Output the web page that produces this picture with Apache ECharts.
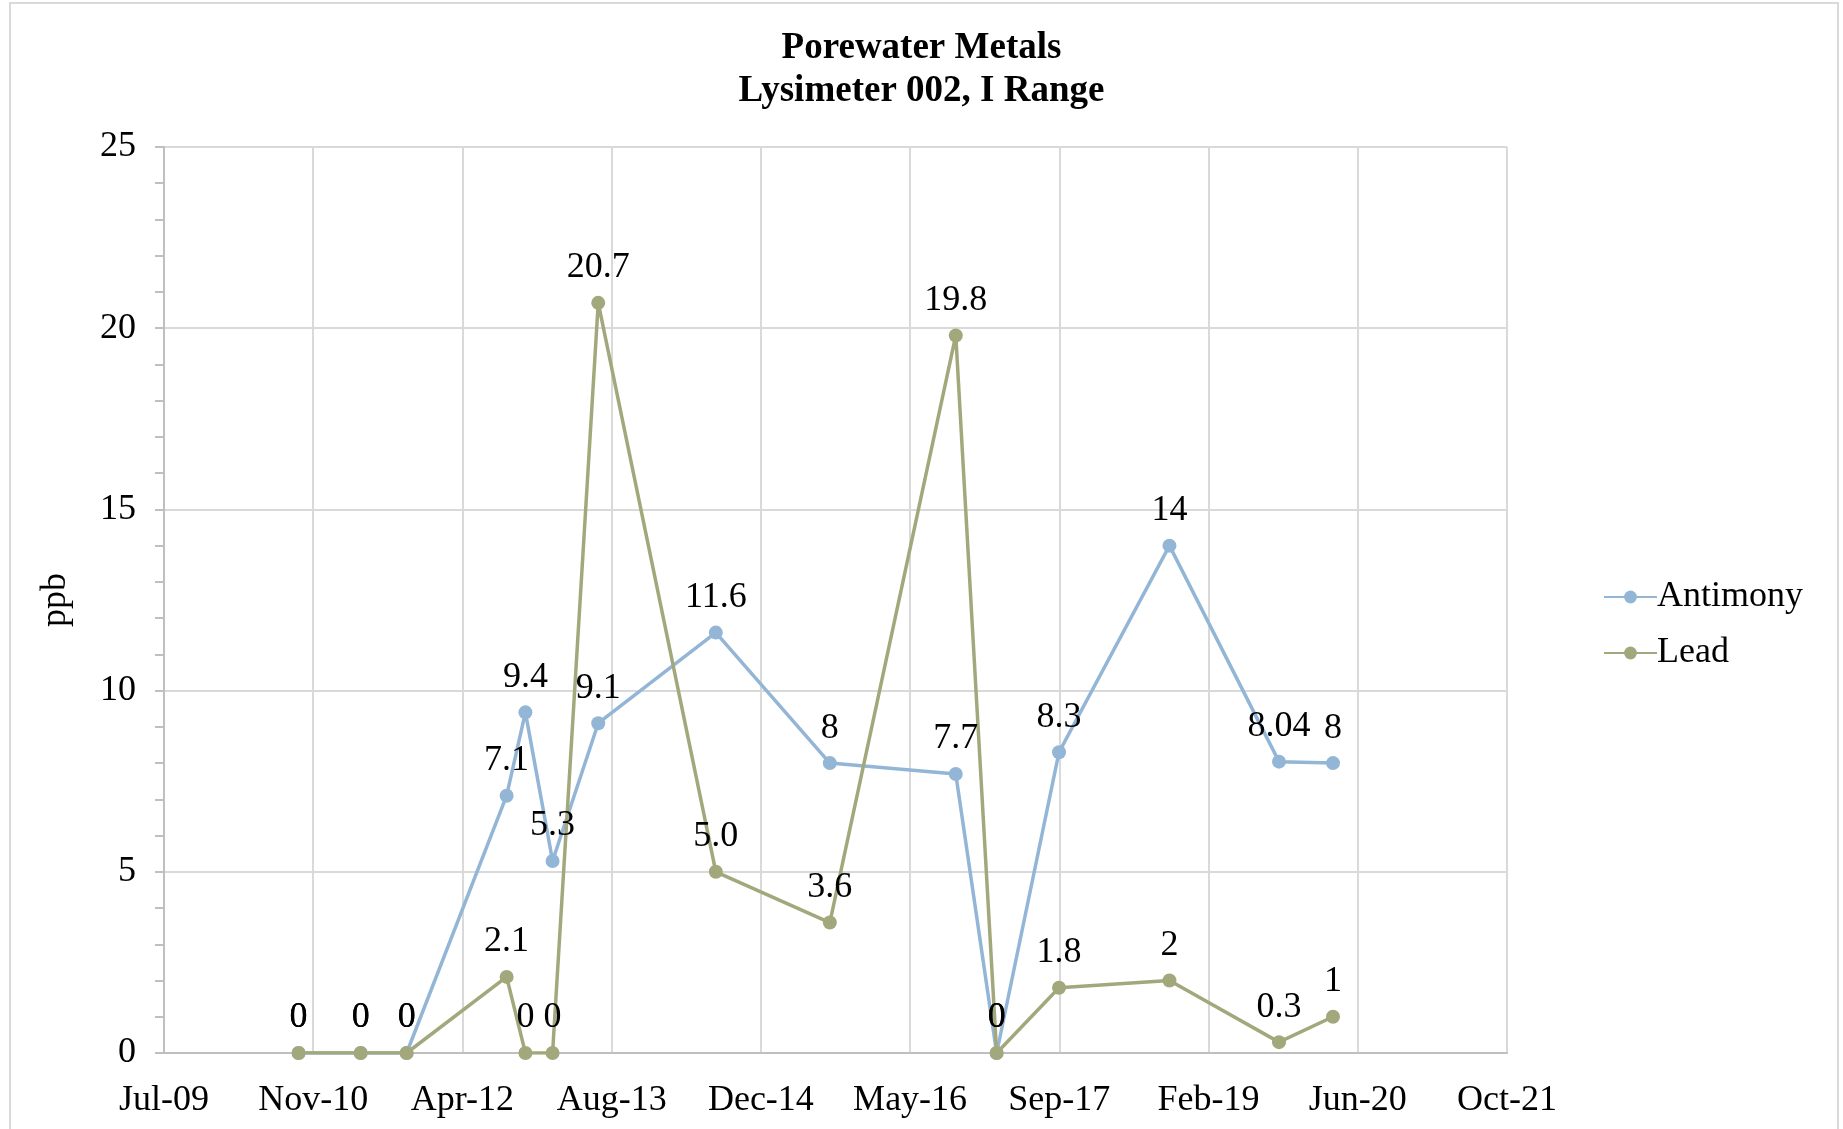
<!DOCTYPE html>
<html>
<head>
<meta charset="utf-8">
<title>Porewater Metals</title>
<script src="https://cdn.jsdelivr.net/npm/echarts@6/dist/echarts.min.js"></script>
<style>
  html, body { margin: 0; padding: 0; background: #fff; }
  #main { width: 1843px; height: 1129px; }
</style>
</head>
<body>
<div id="main"></div>
<script>
  // sample dates
  var sampleDates = ['2010-09-30', '2011-04-26', '2011-09-27', '2012-08-27', '2012-10-29', '2013-01-28',
    '2013-06-30', '2014-07-29', '2015-08-15', '2016-10-10', '2017-02-24', '2017-09-21',
    '2018-09-26', '2019-09-28', '2020-03-27']
  var antimony = [0, 0, 0, 7.1, 9.4, 5.3, 9.1, 11.6, 8, 7.7, 0, 8.3, 14, 8.04, 8]
  var lead = [0, 0, 0, 2.1, 0, 0, 20.7, 5.0, 3.6, 19.8, 0, 1.8, 2, 0.3, 1]
  var antimonyLabels = ['0', '0', '0', '7.1', '9.4', '5.3', '9.1', '11.6', '8', '7.7', '0', '8.3', '14', '8.04', '8']
  var leadLabels = ['0', '0', '0', '2.1', '0', '0', '20.7', '5.0', '3.6', '19.8', '0', '1.8', '2', '0.3', '1']
  var months = ['Jan', 'Feb', 'Mar', 'Apr', 'May', 'Jun', 'Jul', 'Aug', 'Sep', 'Oct', 'Nov', 'Dec']

  // excel style serial day numbers so the axis steps by 500 days from 40000
  var DAY = 86400000
  var EPOCH = Date.UTC(1899, 11, 30)
  function serial(s) {
    var p = s.split('-')
    return Math.round((Date.UTC(+p[0], +p[1] - 1, +p[2]) - EPOCH) / DAY)
  }
  function dateLabel(v) {
    var d = new Date(EPOCH + v * DAY)
    var yy = String(d.getUTCFullYear() % 100)
    if (yy.length < 2) yy = '0' + yy
    return months[d.getUTCMonth()] + '-' + yy
  }
  function pairs(vals) {
    var out = []
    for (var i = 0; i < vals.length; i++) {
      out.push([serial(sampleDates[i]), vals[i]])
    }
    return out
  }

  var font = '"Liberation Serif", "Times New Roman", serif'
  var gridColor = '#d9d9d9'

  function makeSeries(name, vals, labels, color) {
    return {
      name: name,
      type: 'line',
      data: pairs(vals),
      symbol: 'circle',
      symbolSize: 14,
      lineStyle: { color: color, width: 3.5 },
      itemStyle: { color: color },
      label: {
        show: true,
        position: 'top',
        distance: 8,
        fontFamily: font,
        fontSize: 36,
        lineHeight: 40,
        color: '#000',
        formatter: function (p) { return labels[p.dataIndex] }
      },
      emphasis: { disabled: true },
      animation: false
    }
  }

  var chart = echarts.init(document.getElementById('main'))
  chart.setOption({
    backgroundColor: '#fff',
    textStyle: { fontFamily: font },
    title: {
      text: 'Porewater Metals\nLysimeter 002, I Range',
      left: 'center',
      top: 22,
      textStyle: { fontFamily: font, fontSize: 37, fontWeight: 'bold', lineHeight: 43, color: '#000' }
    },
    graphic: [{
      type: 'rect',
      shape: { x: 10, y: 3, width: 1828, height: 1140 },
      style: { fill: 'none', stroke: gridColor, lineWidth: 2 },
      silent: true
    }],
    legend: {
      orient: 'vertical',
      left: 1598,
      top: 572,
      itemWidth: 53,
      itemHeight: 16,
      itemGap: 16,
      textStyle: { fontFamily: font, fontSize: 36, lineHeight: 40, color: '#000', padding: [0, 0, 0, -5] },
      data: ['Antimony', 'Lead']
    },
    grid: { left: 164, right: 336, top: 147, bottom: 76 },
    xAxis: {
      type: 'value',
      min: 40000,
      max: 44500,
      interval: 500,
      axisLine: { show: true, lineStyle: { color: '#bfbfbf', width: 2 } },
      axisTick: { show: false },
      splitLine: { show: true, lineStyle: { color: gridColor, width: 2 } },
      axisLabel: {
        margin: 30,
        fontFamily: font,
        fontSize: 36,
        color: '#000',
        formatter: dateLabel
      }
    },
    yAxis: {
      type: 'value',
      name: 'ppb',
      nameLocation: 'middle',
      nameGap: 90,
      nameTextStyle: { fontFamily: font, fontSize: 36, color: '#000' },
      min: 0,
      max: 25,
      interval: 5,
      axisLine: { show: true, lineStyle: { color: '#bfbfbf', width: 2 } },
      axisTick: { show: true, length: 9, lineStyle: { color: '#bfbfbf', width: 2 } },
      minorTick: { show: true, splitNumber: 5, length: 9, lineStyle: { color: '#bfbfbf', width: 2 } },
      splitLine: { show: true, lineStyle: { color: gridColor, width: 2 } },
      axisLabel: { margin: 28, fontFamily: font, fontSize: 36, color: '#000' }
    },
    series: [
      makeSeries('Antimony', antimony, antimonyLabels, '#93b5d6'),
      makeSeries('Lead', lead, leadLabels, '#a3a87c')
    ]
  })
</script>
</body>
</html>
